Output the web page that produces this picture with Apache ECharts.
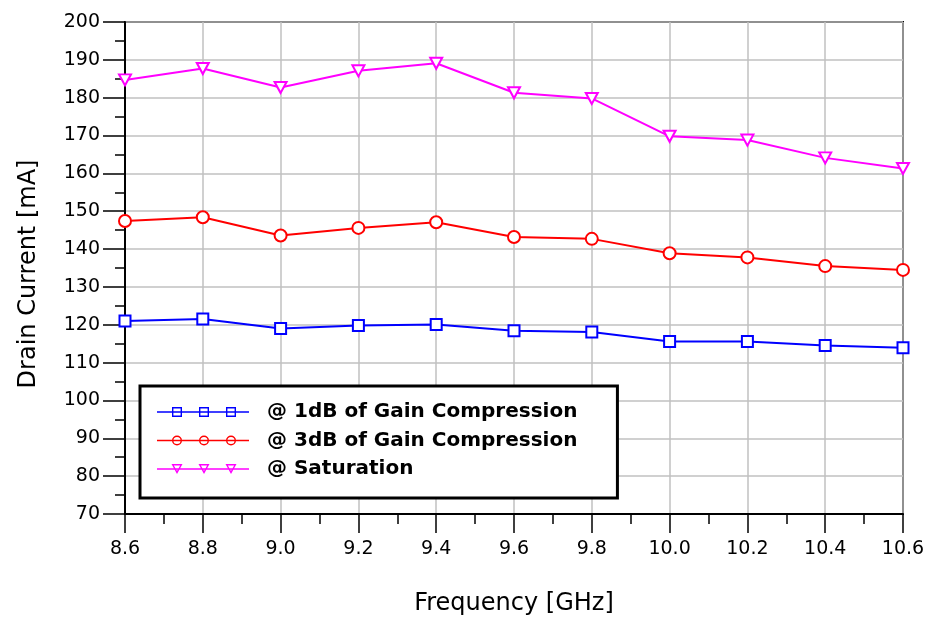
<!DOCTYPE html>
<html>
<head>
<meta charset="utf-8">
<script src="https://cdn.jsdelivr.net/npm/echarts@6/dist/echarts.min.js"></script>
<style>
html,body{margin:0;padding:0;background:#fff;}
#chart{width:926px;height:619px;}
</style>
</head>
<body>
<div id="chart"></div>
<script>
// ---- data ----
var frequencies = [8.6, 8.8, 9.0, 9.2, 9.4, 9.6, 9.8, 10.0, 10.2, 10.4, 10.6];
var current1dB = [121.0, 121.5, 119.0, 119.8, 120.1, 118.4, 118.1, 115.6, 115.6, 114.5, 113.9];
var current3dB = [147.4, 148.4, 143.6, 145.6, 147.1, 143.2, 142.7, 138.9, 137.8, 135.5, 134.5];
var currentSat = [184.7, 187.7, 182.7, 187.1, 189.1, 181.3, 179.8, 169.8, 168.8, 164.1, 161.3];
var seriesNames = ['@ 1dB of Gain Compression', '@ 3dB of Gain Compression', '@ Saturation'];
var xAxisTitle = 'Frequency [GHz]';
var yAxisTitle = 'Drain Current [mA]';

function pairs(vals){ return frequencies.map(function(f,i){ return [f, vals[i]]; }); }

// legend icons (line with three hollow markers), drawn as fill paths
function sq(cx){
  return 'M'+(cx-5)+' 0H'+(cx+5)+'V10H'+(cx-5)+'Z' +
         'M'+(cx-3.6)+' 1.4V8.6H'+(cx+3.6)+'V1.4Z';
}
function circ(cx){
  return 'M'+(cx-5)+' 5A5 5 0 1 1 '+(cx+5)+' 5A5 5 0 1 1 '+(cx-5)+' 5Z' +
         'M'+(cx-3.6)+' 5A3.6 3.6 0 1 0 '+(cx+3.6)+' 5A3.6 3.6 0 1 0 '+(cx-3.6)+' 5Z';
}
function tri(cx){
  return 'M'+(cx-5.5)+' 0L'+(cx+5.5)+' 0L'+cx+' 10Z' +
         'M'+(cx-3.13)+' 1.4L'+cx+' 7.09L'+(cx+3.13)+' 1.4Z';
}
var lineBar = 'M0 4.3H92V5.7H0Z';
var iconSq = 'path://' + lineBar + sq(20) + sq(47) + sq(74);
var iconCi = 'path://' + lineBar + circ(20) + circ(47) + circ(74);
var iconTr = 'path://' + lineBar + tri(20) + tri(47) + tri(74);

var chart = echarts.init(document.getElementById('chart'), null, {renderer:'canvas'});
var font = 'DejaVu Sans';
chart.setOption({
  animation: false,
  backgroundColor: '#ffffff',
  grid: {left:125, right:23, top:22, bottom:105, show:true, borderColor:'#000', borderWidth:2,
         backgroundColor:'transparent', containLabel:false, outerBoundsMode:'none'},
  xAxis: {
    type:'value', min:8.6, max:10.6, interval:0.2,
    name: xAxisTitle, nameLocation:'middle', nameGap:78,
    nameTextStyle:{fontFamily:font, fontSize:24, color:'#000'},
    axisLine:{show:true, onZero:false, lineStyle:{color:'#000', width:2}},
    axisTick:{show:true, inside:false, length:19, lineStyle:{color:'#000', width:1.5}},
    minorTick:{show:true, splitNumber:2, length:10, lineStyle:{color:'#000', width:1.5}},
    axisLabel:{fontFamily:font, fontSize:19, color:'#000', margin:26,
      formatter:function(v){ return (Math.round(v*10)/10).toFixed(1); }},
    splitLine:{show:true, lineStyle:{color:'#c0c0c0', width:1.5}}
  },
  yAxis: {
    type:'value', min:70, max:200, interval:10,
    name: yAxisTitle, nameLocation:'middle', nameGap:84,
    nameTextStyle:{fontFamily:font, fontSize:24, color:'#000', padding:[0,12,0,0]},
    axisLine:{show:true, onZero:false, lineStyle:{color:'#000', width:2}},
    axisTick:{show:true, inside:false, length:22, lineStyle:{color:'#000', width:1.5}},
    minorTick:{show:true, splitNumber:2, length:10, lineStyle:{color:'#000', width:1.5}},
    axisLabel:{fontFamily:font, fontSize:19, color:'#000', margin:25},
    splitLine:{show:true, lineStyle:{color:'#c0c0c0', width:1.5}}
  },
  legend: {
    show:true, orient:'vertical', left:140, top:386,
    backgroundColor:'#fff', borderColor:'#000', borderWidth:3,
    padding:[16, 40, 19, 17], itemGap:8.5,
    itemWidth:92, itemHeight:10,
    itemStyle:{borderWidth:0},
    textStyle:{fontFamily:font, fontSize:20, fontWeight:'bold', color:'#000', lineHeight:20, padding:[0,0,0,13]},
    data:[
      {name:seriesNames[0], icon:iconSq},
      {name:seriesNames[1], icon:iconCi},
      {name:seriesNames[2], icon:iconTr}
    ]
  },
  series: [
    {name:seriesNames[0], type:'line', data:pairs(current1dB), color:'#0000ff',
     symbol:'emptyRect', symbolSize:11, lineStyle:{width:2, color:'#0000ff'},
     itemStyle:{color:'#0000ff', borderWidth:1.6}, z:3},
    {name:seriesNames[1], type:'line', data:pairs(current3dB), color:'#ff0000',
     symbol:'emptyCircle', symbolSize:12, lineStyle:{width:2, color:'#ff0000'},
     itemStyle:{color:'#ff0000', borderWidth:1.6}, z:3},
    {name:seriesNames[2], type:'line', data:pairs(currentSat), color:'#ff00ff',
     symbol:'emptyTriangle', symbolRotate:180, symbolSize:[12,11], lineStyle:{width:2, color:'#ff00ff'},
     itemStyle:{color:'#ff00ff', borderWidth:1.6}, z:3}
  ]
});
</script>
</body>
</html>
